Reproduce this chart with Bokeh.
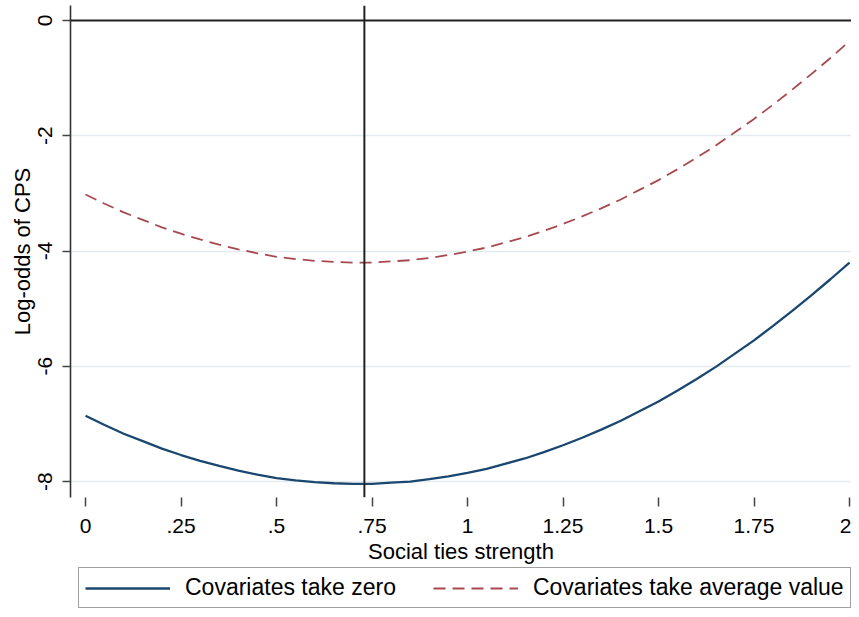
from bokeh.plotting import figure
from bokeh.layouts import column
from bokeh.models import Range1d, FixedTicker, Span, Legend, LegendItem
from bokeh.embed import file_html
from bokeh.resources import INLINE

# ---- data ----
social_ties = [0.0, 0.05, 0.1, 0.15, 0.2, 0.25, 0.3, 0.35, 0.4, 0.45, 0.5,
               0.55, 0.6, 0.65, 0.7, 0.75, 0.8, 0.85, 0.9, 0.95, 1.0,
               1.05, 1.1, 1.15, 1.2, 1.25, 1.3, 1.35, 1.4, 1.45, 1.5,
               1.55, 1.6, 1.65, 1.7, 1.75, 1.8, 1.85, 1.9, 1.95, 2.0]
covariates_zero = [-6.86, -7.02, -7.17, -7.30, -7.43, -7.54, -7.64, -7.73, -7.81, -7.88, -7.94,
                   -7.98, -8.01, -8.03, -8.04, -8.04, -8.02, -8.00, -7.96, -7.91, -7.85,
                   -7.78, -7.69, -7.60, -7.49, -7.37, -7.24, -7.10, -6.95, -6.78, -6.61,
                   -6.42, -6.22, -6.01, -5.78, -5.55, -5.30, -5.04, -4.77, -4.49, -4.20]
covariates_average = [-3.02, -3.18, -3.33, -3.46, -3.59, -3.70, -3.80, -3.89, -3.97, -4.04, -4.10,
                      -4.14, -4.17, -4.19, -4.20, -4.20, -4.18, -4.16, -4.12, -4.07, -4.01,
                      -3.94, -3.85, -3.76, -3.65, -3.53, -3.40, -3.26, -3.11, -2.94, -2.77,
                      -2.58, -2.38, -2.17, -1.94, -1.71, -1.46, -1.20, -0.93, -0.65, -0.36]
turning_point = 0.73
x_ticks = [0, 0.25, 0.5, 0.75, 1, 1.25, 1.5, 1.75, 2]
x_tick_labels = ["0", ".25", ".5", ".75", "1", "1.25", "1.5", "1.75", "2"]
y_ticks = [0, -2, -4, -6, -8]
y_tick_labels = ["0", "-2", "-4", "-6", "-8"]
series_names = ["Covariates take zero", "Covariates take average value"]
x_title = "Social ties strength"
y_title = "Log-odds of CPS"

FONT = "Liberation Sans"
BLUE = "#1a476f"
RED = "#a8494f"

p = figure(width=851, height=567,
           x_range=Range1d(-0.0393, 2.0052), y_range=Range1d(-8.277, 0.26),
           output_backend="svg", toolbar_location=None,
           min_border_left=70, min_border_right=0, min_border_top=5, min_border_bottom=70)
p.outline_line_color = None
p.background_fill_color = "white"
p.border_fill_color = "white"

# axes
p.xaxis.ticker = FixedTicker(ticks=x_ticks)
p.xaxis.major_label_overrides = {t: l for t, l in zip(x_ticks, x_tick_labels)}
p.yaxis.ticker = FixedTicker(ticks=y_ticks)
p.yaxis.major_label_overrides = {t: l for t, l in zip(y_ticks, y_tick_labels)}
p.xaxis.axis_label = x_title
p.yaxis.axis_label = y_title
for ax in (p.xaxis[0], p.yaxis[0]):
    ax.axis_label_text_font = FONT
    ax.axis_label_text_font_style = "normal"
    ax.axis_label_text_font_size = "22px"
    ax.axis_label_text_color = "black"
    ax.major_label_text_font = FONT
    ax.major_label_text_font_size = "21px"
    ax.major_label_text_color = "black"
    ax.major_tick_in = 0
    ax.major_tick_line_color = "#444444"
    ax.major_tick_line_width = 1.5
    ax.minor_tick_line_color = None
p.xaxis.major_tick_out = 9
p.xaxis.major_label_standoff = 12
p.xaxis.axis_label_standoff = 3
p.xaxis.axis_line_color = None
p.yaxis.major_tick_out = 8
p.yaxis.major_label_standoff = 10
p.yaxis.axis_label_standoff = 1
p.yaxis.axis_line_color = "#333333"
p.yaxis.axis_line_width = 1.6
p.yaxis.major_label_orientation = "vertical"

# grid
p.xgrid.visible = False
p.ygrid.ticker = FixedTicker(ticks=y_ticks)
p.ygrid.grid_line_color = "#e3ebee"
p.ygrid.grid_line_width = 1.5

# curves
p.line(social_ties, covariates_zero, line_color=BLUE, line_width=2.3)
p.line(social_ties, covariates_average, line_color=RED, line_width=1.8, line_dash="12 7")

# reference lines
p.add_layout(Span(location=0, dimension="width", line_color="#222222", line_width=2))
p.add_layout(Span(location=turning_point, dimension="height", line_color="#222222", line_width=2))

# legend strip below the plot (its series lie outside this strip's view range)
leg = figure(width=851, height=42, x_range=Range1d(0, 1), y_range=Range1d(100, 101),
             output_backend="svg", toolbar_location=None,
             x_axis_location=None, y_axis_location=None,
             min_border_left=70, min_border_right=0, min_border_top=0, min_border_bottom=0)
leg.outline_line_color = None
leg.xgrid.visible = False
leg.ygrid.visible = False
g1 = leg.line(social_ties, covariates_zero, line_color=BLUE, line_width=2.3)
g2 = leg.line(social_ties, covariates_average, line_color=RED, line_width=1.8, line_dash="12 7")
legend = Legend(items=[LegendItem(label=series_names[0], renderers=[g1]),
                       LegendItem(label=series_names[1], renderers=[g2])],
                location=(8, 1), orientation="horizontal", margin=0,
                glyph_width=85, glyph_height=20, label_standoff=15, spacing=37, padding=6,
                border_line_color="#444444", border_line_width=1.5,
                label_text_font=FONT, label_text_font_size="23px", label_text_color="black",
                background_fill_color="white", background_fill_alpha=1.0)
leg.add_layout(legend)

open("out.html", "w").write(file_html(column(p, leg, spacing=0), INLINE))
